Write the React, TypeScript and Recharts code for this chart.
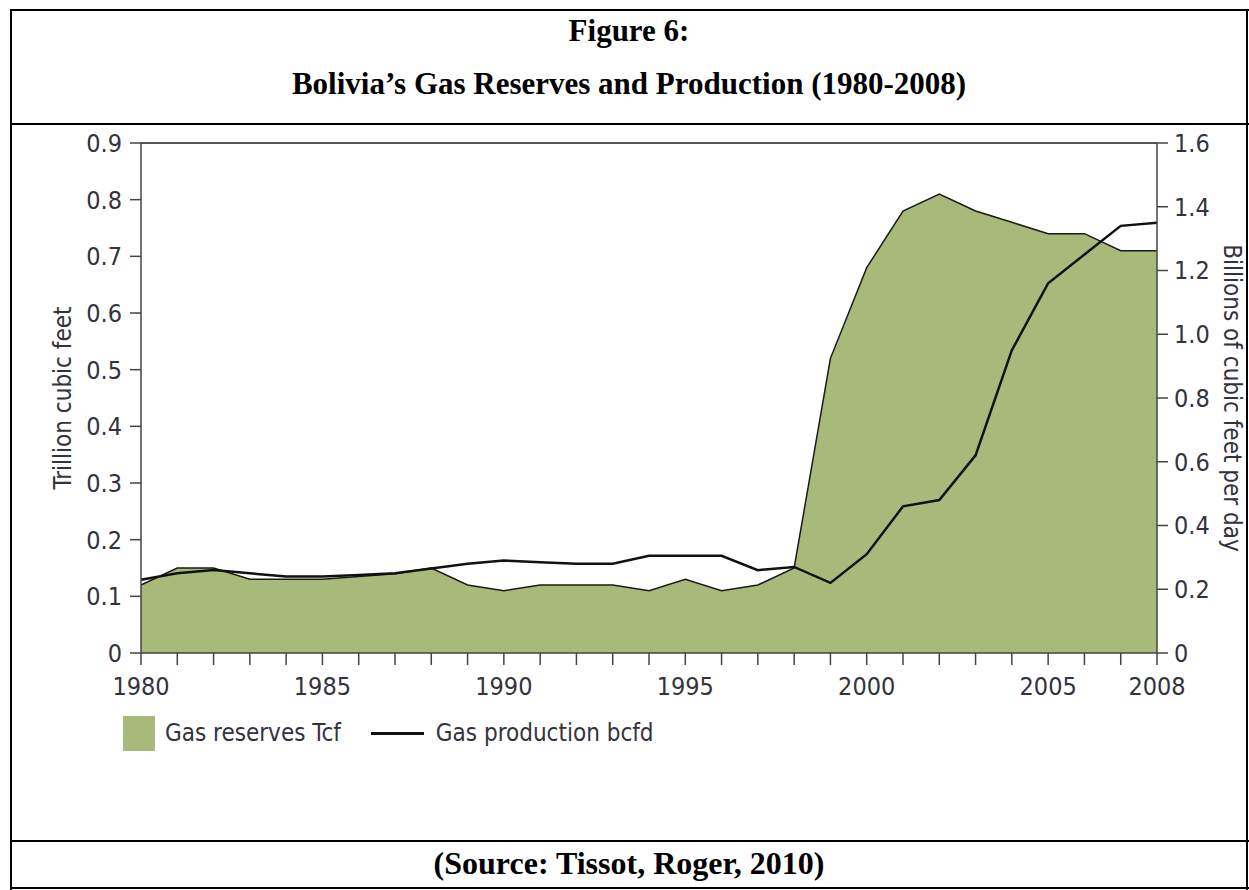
import React from 'react'
import {
  ComposedChart,
  Area,
  Line,
  XAxis,
  YAxis,
  Legend,
  ReferenceLine,
} from 'recharts'

const years = [
  1980, 1981, 1982, 1983, 1984, 1985, 1986, 1987, 1988, 1989,
  1990, 1991, 1992, 1993, 1994, 1995, 1996, 1997, 1998, 1999,
  2000, 2001, 2002, 2003, 2004, 2005, 2006, 2007, 2008,
]
// trillion cubic feet (left axis)
const reserves = [
  0.12, 0.15, 0.15, 0.13, 0.13, 0.13, 0.135, 0.14, 0.15, 0.12,
  0.11, 0.12, 0.12, 0.12, 0.11, 0.13, 0.11, 0.12, 0.15, 0.52,
  0.68, 0.78, 0.81, 0.78, 0.76, 0.74, 0.74, 0.71, 0.71,
]
// billions of cubic feet per day (right axis)
const production = [
  0.23, 0.25, 0.26, 0.25, 0.24, 0.24, 0.245, 0.25, 0.265, 0.28,
  0.29, 0.285, 0.28, 0.28, 0.305, 0.305, 0.305, 0.26, 0.27, 0.22,
  0.31, 0.46, 0.48, 0.62, 0.95, 1.16, 1.25, 1.34, 1.35,
]
const labeledYears = [1980, 1985, 1990, 1995, 2000, 2005, 2008]
const leftTicks = [0, 0.1, 0.2, 0.3, 0.4, 0.5, 0.6, 0.7, 0.8, 0.9]
const rightTicks = [0, 0.2, 0.4, 0.6, 0.8, 1.0, 1.2, 1.4, 1.6]

const data = years.map((year, i) => ({
  year,
  reserves: reserves[i],
  production: production[i],
}))

const narrow = "'Liberation Sans Narrow', 'Arial Narrow', 'DejaVu Sans Condensed', sans-serif"
const serif = "'Liberation Serif', 'Times New Roman', serif"
const textColor = '#33333d'
const axisColor = '#444'
const green = '#a8b97a'

const fmt = (v: number) => (v === 0 ? '0' : v.toFixed(1))

const YearTick = (props: any) => {
  const { x, y, payload } = props
  if (!labeledYears.includes(payload.value)) return <g />
  return (
    <text
      x={x}
      y={y}
      dy='0.71em'
      textAnchor='middle'
      style={{ fontFamily: narrow, fontSize: 25, fill: textColor }}
    >
      {payload.value}
    </text>
  )
}

const LegendContent = () => (
  <div
    style={{
      display: 'flex',
      alignItems: 'center',
      height: 40,
      paddingLeft: 123,
      fontFamily: narrow,
      fontSize: 24,
      color: textColor,
    }}
  >
    <span style={{ width: 32, height: 35, background: green, marginRight: 10 }} />
    <span>Gas reserves Tcf</span>
    <span
      style={{ width: 53, height: 3, background: '#111', marginLeft: 30, marginRight: 12 }}
    />
    <span>Gas production bcfd</span>
  </div>
)

const hLine = (top: number, left = 11): React.CSSProperties => ({
  position: 'absolute',
  top,
  left,
  right: 0,
  height: 2,
  background: '#000',
})

const vLine = (left: number): React.CSSProperties => ({
  position: 'absolute',
  top: 9,
  left,
  width: 2,
  height: 881,
  background: '#000',
})

const titleStyle: React.CSSProperties = {
  position: 'absolute',
  left: 11,
  width: 1236,
  textAlign: 'center',
  fontFamily: serif,
  fontWeight: 'bold',
  fontSize: 31,
  lineHeight: '34px',
  color: '#000',
}

export default function App() {
  return (
    <div
      style={{
        position: 'absolute',
        top: 0,
        left: 0,
        width: 1249,
        height: 890,
        background: '#fff',
        overflow: 'hidden',
      }}
    >
      <div style={hLine(9)} />
      <div style={vLine(10)} />
      <div style={vLine(1246)} />
      <div style={hLine(123)} />
      <div style={hLine(840)} />
      <div style={hLine(887)} />

      <div style={{ ...titleStyle, top: 14 }}>Figure 6:</div>
      <div style={{ ...titleStyle, top: 67 }}>
        Bolivia’s Gas Reserves and Production (1980-2008)
      </div>
      <div style={{ ...titleStyle, top: 846, fontSize: 32 }}>(Source: Tissot, Roger, 2010)</div>

      <div style={{ position: 'absolute', top: 124, left: 0 }}>
        <ComposedChart
          width={1249}
          height={717}
          data={data}
          margin={{ top: 19, right: 0, bottom: 88, left: 0 }}
        >
          <XAxis
            dataKey='year'
            type='number'
            domain={[1980, 2008]}
            ticks={years}
            interval={0}
            tick={<YearTick />}
            tickSize={12}
            tickMargin={12}
            height={60}
            stroke={axisColor}
            strokeWidth={1.5}
          />
          <YAxis
            yAxisId='left'
            orientation='left'
            domain={[0, 0.9]}
            ticks={leftTicks}
            tickFormatter={fmt}
            width={141}
            tickSize={11}
            tickMargin={8}
            stroke={axisColor}
            strokeWidth={1.5}
            tick={{ fontFamily: narrow, fontSize: 25, fill: textColor }}
            label={{
              value: 'Trillion cubic feet',
              angle: -90,
              position: 'center',
              dx: -8,
              style: { fontFamily: narrow, fontSize: 24, fill: textColor },
            }}
          />
          <YAxis
            yAxisId='right'
            orientation='right'
            domain={[0, 1.6]}
            ticks={rightTicks}
            tickFormatter={fmt}
            width={92}
            tickSize={11}
            tickMargin={6}
            stroke={axisColor}
            strokeWidth={1.5}
            tick={{ fontFamily: narrow, fontSize: 25, fill: textColor }}
            label={{
              value: 'Billions of cubic feet per day',
              angle: 90,
              position: 'center',
              dx: 30,
              style: { fontFamily: narrow, fontSize: 24, fill: textColor },
            }}
          />
          <ReferenceLine yAxisId='left' y={0.9} stroke='#555' strokeWidth={2} />
          <Area
            yAxisId='left'
            dataKey='reserves'
            name='Gas reserves Tcf'
            type='linear'
            fill={green}
            fillOpacity={1}
            stroke='#1a1a1a'
            strokeWidth={1.5}
            isAnimationActive={false}
          />
          <Line
            yAxisId='right'
            dataKey='production'
            name='Gas production bcfd'
            type='linear'
            stroke='#111'
            strokeWidth={2.5}
            dot={false}
            isAnimationActive={false}
          />
          <Legend verticalAlign='bottom' content={<LegendContent />} />
        </ComposedChart>
      </div>
    </div>
  )
}
